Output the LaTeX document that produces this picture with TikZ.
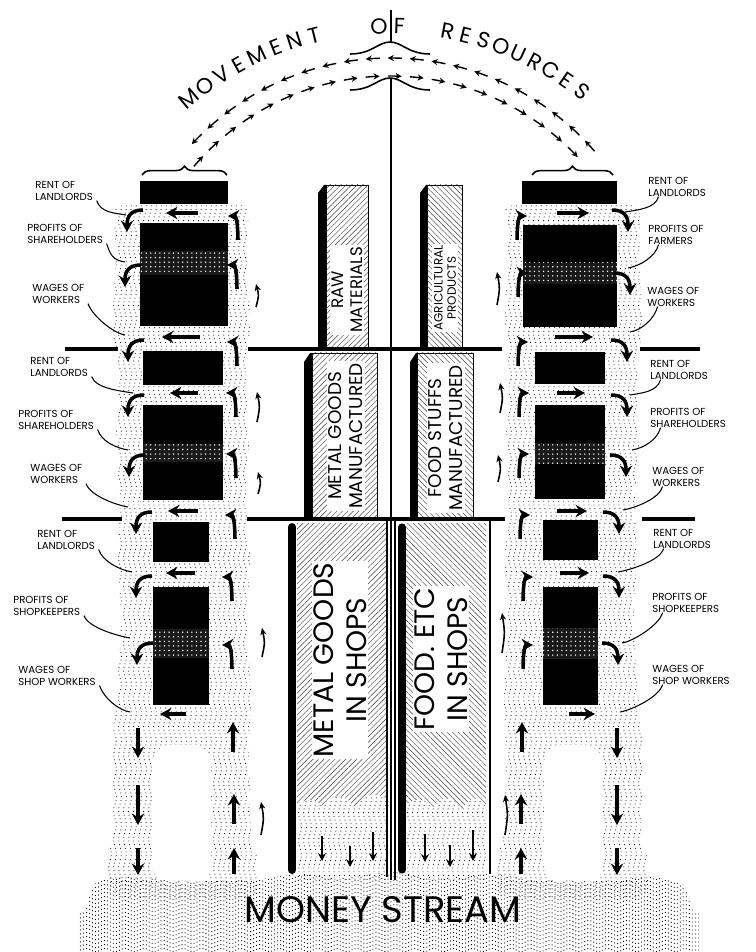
\documentclass[tikz,border=0pt]{standalone}
\usepackage{fontspec}
\setmainfont{Poppins}
\usepackage{tikz}
\usetikzlibrary{positioning}
\usetikzlibrary{calc}
\usetikzlibrary{arrows.meta}
\usetikzlibrary{decorations.pathmorphing}
\usetikzlibrary{decorations.pathreplacing}
\usetikzlibrary{patterns.meta}

\tikzset{
  stip/.style={line width=0.45pt, dash pattern=on 0.45pt off 1.7pt, decorate,
    decoration={snake, amplitude=0.8pt, segment length=16pt}},
  stiph/.style={line width=0.5pt, dash pattern=on 0.5pt off 1.3pt, decorate,
    decoration={snake, amplitude=0.9pt, segment length=11pt}},
  block/.style={fill=black},
  mottle/.style={fill=black!90, postaction={pattern={Dots[distance=2.6pt,radius=0.45pt]}, pattern color=white}},
  hatchR/.style={fill=white, postaction={pattern={Lines[angle=45,distance=2.2pt,line width=0.25pt]}, pattern color=black!75}},
  hatchL/.style={fill=white, postaction={pattern={Lines[angle=-45,distance=2.2pt,line width=0.25pt]}, pattern color=black!75}},
  side/.style={fill=black},
  bar/.style={line width=2.4pt},
  flow/.style={line width=2pt, -{Stealth[length=6.5pt,width=7pt]}},
  lone/.style={line width=0.9pt, -{Stealth[length=4pt,width=3.5pt]}},
  drop/.style={line width=1.2pt, -{Stealth[length=4.5pt,width=4.5pt]}},
  res/.style={line width=0.8pt, -{Stealth[length=3.5pt,width=3.5pt]}},
  lbl/.style={font=\fontsize{5.8}{6.4}\selectfont, align=left, inner sep=0pt, anchor=west},
  leader/.style={line width=0.6pt},
  barlbl/.style={rotate=90, align=center, inner sep=1pt, fill=white},
  ttl/.style={font=\fontsize{12.5}{12.5}\selectfont, inner sep=0pt},
}

% dotted money stream round one column (left one, mirrored for the right)
\newcommand{\columnstream}{%
  \begin{scope}
    \clip plot[smooth cycle, tension=0.55] coordinates {(126,205) (115,218) (116,260) (113,320) (118,380) (116,440) (120,500) (118,560) (121,620) (117,690) (112,760) (114,830) (111,895) (253,895) (251,830) (249,760) (251,690) (247,620) (250,560) (246,500) (249,440) (246,380) (250,320) (247,260) (248,218) (238,205)};
    \foreach \x in {110,115,...,255}
      \draw[stip] (\x,198) -- (\x,900);
  \end{scope}
  \fill[white, rounded corners=10pt] (153,745) rectangle (211,884);
}

% arrows of the stream round one column
\newcommand{\columnflow}[1]{%
  \foreach \ya/\xa/\xb in {213/198/166, 337/200/162, 393/198/170, 511/198/168, 573/195/166, 714/186/160}
    \draw[flow] (\xa,\ya) -- (\xb,\ya);
  \foreach \y/\x in {210/127, #1/125, 340/128, 395/128, 455/129, 512/136, 576/136, 643/137}
    \draw[flow] (\x+16,\y) .. controls (\x+4,\y) and (\x,\y+6) .. (\x,\y+22);
  \foreach \y/\x in {216/238, #1/237, 342/237, 393/236, 454/236, 515/235, 577/232, 645/232}
    \draw[flow] (\x,\y+24) .. controls (\x,\y+8) and (\x-2,\y) .. (\x-10,\y);
  \foreach \ya/\yb/\x in {728/758/138, 785/825/138, 848/875/138}
    \draw[flow] (\x,\ya) -- (\x,\yb);
  \foreach \ya/\yb/\x in {752/722/233, 824/794/234, 874/848/234}
    \draw[flow] (\x,\ya) -- (\x,\yb);
}

\begin{document}
\begin{tikzpicture}[x=0.02cm, y=-0.02cm]
\useasboundingbox (0,0) rectangle (755,952);
\coordinate (tctr) at (390,339);
\coordinate (octr) at (390,329);
\coordinate (ictr) at (390,334);

% streams
\columnstream
\begin{scope}[shift={(755,0)}, xscale=-1]
  \columnstream
\end{scope}

% shop bottoms
\foreach \x in {300,305,...,386}
  \draw[stip] (\x,790) -- (\x,880);
\foreach \x in {409,414,...,488}
  \draw[stip] (\x,790) -- (\x,880);

% money stream
\begin{scope}
  \clip plot[smooth cycle, tension=0.5] coordinates {(86,952) (88,905) (95,884) (120,877) (190,881) (260,879) (300,874) (345,878) (390,872) (440,878) (490,874) (530,879) (600,881) (650,877) (682,884) (690,905) (692,952)};
  \foreach \y in {866,870,...,956}
    \draw[stiph] (80,\y) -- (700,\y);
\end{scope}
\node[font=\fontsize{21}{21}\selectfont, inner sep=1pt] (money) at (383,910) {MONEY STREAM};

% goods in shops
\path[hatchR] (297,523) -- (387,523) -- (387,800) .. controls (375,790) and (362,795) .. (355,808) .. controls (345,792) and (330,795) .. (322,806) .. controls (312,796) and (302,800) .. (297,806) -- cycle;
\path[hatchL] (406,523) -- (486,523) -- (486,805) .. controls (478,795) and (468,797) .. (462,810) .. controls (455,795) and (440,795) .. (433,808) .. controls (425,796) and (412,798) .. (406,806) -- cycle;
\draw[line width=4.5pt, line cap=round] (292,527) -- (292,870);
\draw[line width=4pt, line cap=round] (402,527) -- (402,870);
\draw[line width=0.6pt] (387,521) -- (387,877);
\draw[line width=0.6pt] (490,521) -- (490,874);
\node[barlbl, font=\fontsize{16}{19}\selectfont] (metshop) at (340,660) {METAL GOODS\\IN SHOPS};
\node[barlbl, font=\fontsize{16}{19}\selectfont] (foodshop) at (441,659) {FOOD. ETC\\IN SHOPS};
\foreach \xa/\ya/\yb in {322/836/861, 350/846/867, 373/832/861, 425/834/862, 450/845/867, 473/830/861}
  \draw[drop] (\xa,\ya) -- (\xa,\yb);

% manufactured goods
\fill[side] (304,362) -- (310,353) -- (313,353) -- (313,517) -- (304,517) -- cycle;
\path[hatchR, draw=black, line width=0.5pt] (312,353) rectangle (377,517);
\fill[side] (410,362) -- (416,353) -- (418,353) -- (418,517) -- (410,517) -- cycle;
\path[hatchL, draw=black, line width=0.5pt] (417,353) rectangle (473,517);
\node[barlbl, font=\fontsize{10.5}{12}\selectfont] (metman) at (346,436) {METAL GOODS\\MANUFACTURED};
\node[barlbl, font=\fontsize{10.5}{12}\selectfont] (foodman) at (446,438) {FOOD STUFFS\\MANUFACTURED};

% raw products
\fill[side] (318,193) -- (324,185) -- (327,185) -- (327,347) -- (318,347) -- cycle;
\path[hatchR, draw=black, line width=0.5pt] (326,185) rectangle (368,347);
\fill[side] (420,193) -- (426,185) -- (428,185) -- (428,347) -- (420,347) -- cycle;
\path[hatchL, draw=black, line width=0.5pt] (427,185) rectangle (462,347);
\node[barlbl, font=\fontsize{9.5}{11}\selectfont] (raw) at (347,290) {RAW\\MATERIALS};
\node[barlbl, font=\fontsize{6.8}{7.6}\selectfont] (agri) at (445,288) {AGRICULTURAL\\PRODUCTS};

% floors
\foreach \y/\xa/\xb in {349/65/118, 349/248/502, 349/640/700, 519/62/122, 519/247/505, 519/642/695}
  \draw[bar] (\xa,\y) -- (\xb,\y);

% centre line
\draw[line width=0.7pt] (391,10) -- (391,42);
\draw[line width=0.7pt] (391,78) -- (391,519);
\draw[line width=0.6pt] (391,519) -- (391,880);
\draw[line width=0.6pt] (395,519) -- (395,880);

% incomes, left column
\fill[block] (140,181) rectangle (228,204);
\fill[block] (140,223) rectangle (228,251);
\path[mottle] (140,251) rectangle (228,275);
\fill[block] (140,275) rectangle (228,326);
\fill[block] (143,351) rectangle (223,385);
\fill[block] (143,405) rectangle (223,444);
\path[mottle] (143,444) rectangle (223,462);
\fill[block] (143,462) rectangle (223,500);
\fill[block] (153,522) rectangle (209,562);
\fill[block] (153,587) rectangle (209,629);
\path[mottle] (153,629) rectangle (209,658);
\fill[block] (153,658) rectangle (209,705);

% incomes, right column
\fill[block] (522,181) rectangle (617,204);
\fill[block] (523,225) rectangle (617,263);
\path[mottle] (523,263) rectangle (617,284);
\fill[block] (523,284) rectangle (617,327);
\fill[block] (535,352) rectangle (605,384);
\fill[block] (535,405) rectangle (605,443);
\path[mottle] (535,443) rectangle (605,464);
\fill[block] (535,464) rectangle (605,499);
\fill[block] (543,520) rectangle (598,560);
\fill[block] (543,587) rectangle (598,628);
\path[mottle] (543,628) rectangle (598,659);
\fill[block] (543,659) rectangle (598,705);

% flow arrows
\columnflow{265}
\begin{scope}[shift={(755,0)}, xscale=-1]
  \columnflow{273}
\end{scope}
\foreach \x/\ya/\yb in {256/307/284, 257/422/392, 258/494/472, 262/657/628, 261/835/802,
                        497/305/272, 500/413/383, 498/482/455, 502/653/613, 505/835/795}
  \draw[lone] (\x,\ya) .. controls (\x+3,\ya/2+\yb/2) .. (\x,\yb);

% labels, left
\node[lbl] (lrent1) at (35,191) {RENT OF\\LANDLORDS};
\node[lbl] (lprof1) at (27,234) {PROFITS OF\\SHAREHOLDERS};
\node[lbl] (lwage1) at (32,294) {WAGES OF\\WORKERS};
\node[lbl] (lrent2) at (30,367) {RENT OF\\LANDLORDS};
\node[lbl] (lprof2) at (18,420) {PROFITS OF\\SHAREHOLDERS};
\node[lbl] (lwage2) at (30,474) {WAGES OF\\WORKERS};
\node[lbl] (lrent3) at (37,540) {RENT OF\\LANDLORDS};
\node[lbl] (lprof3) at (13,606) {PROFITS OF\\SHOPKEEPERS};
\node[lbl] (lwage3) at (18,676) {WAGES OF\\SHOP WORKERS};
\foreach \n/\ex/\ey in {lrent1/126/215, lprof1/125/262, lwage1/125/335, lrent2/133/393, lprof2/128/450,
                        lwage2/128/507, lrent3/132/572, lprof3/130/638, lwage3/130/712}{
  \coordinate (\n-end) at (\ex,\ey);
  \draw[leader] ([xshift=2pt]\n.south east) .. controls +(4,12) and +(-12,-2) .. (\n-end);
}

% labels, right
\node[lbl] (rrent1) at (648,187) {RENT OF\\LANDLORDS};
\node[lbl] (rprof1) at (648,235) {PROFITS OF\\FARMERS};
\node[lbl] (rwage1) at (647,297) {WAGES OF\\WORKERS};
\node[lbl] (rrent2) at (650,370) {RENT OF\\LANDLORDS};
\node[lbl] (rprof2) at (650,418) {PROFITS OF\\SHAREHOLDERS};
\node[lbl] (rwage2) at (652,477) {WAGES OF\\WORKERS};
\node[lbl] (rrent3) at (653,539) {RENT OF\\LANDLORDS};
\node[lbl] (rprof3) at (652,603) {PROFITS OF\\SHOPKEEPERS};
\node[lbl] (rwage3) at (652,675) {WAGES OF\\SHOP WORKERS};
\foreach \n/\ex/\ey in {rrent1/625/212, rprof1/628/268, rwage1/630/332, rrent2/630/395, rprof2/632/450,
                        rwage2/623/510, rrent3/618/572, rprof3/622/643, rwage3/620/712}{
  \coordinate (\n-end) at (\ex,\ey);
  \draw[leader] ([xshift=6pt]\n.south west) .. controls +(-3,12) and +(12,-2) .. (\n-end);
}

% movement of resources
\foreach \ch/\a [count=\i] in {M/129.9, O/126.2, V/122.5, E/118.8, M/115.1, E/111.4, N/107.7, T/104,
                               O/92, F/88.3,
                               R/79.4, E/76, S/72.6, O/69.2, U/65.8, R/62.4, C/59, E/55.6, S/52.2}
  \node[ttl, rotate=\a-90] (ttl\i) at ([shift={(-\a:313)}]tctr) {\ch};
\foreach \a in {41,45.65,...,137}
  \draw[res] ([shift={(-\a:271)}]octr) arc[start angle=-\a, delta angle=-3, radius=271];
\foreach \a in {139.5,134.6,...,45}
  \draw[res] ([shift={(-\a:258)}]ictr) arc[start angle=-\a, delta angle=3.1, radius=258];
\draw[line width=0.9pt] (350,54) .. controls (372,54) and (378,42) .. (390,42) .. controls (402,42) and (408,54) .. (430,54);
\draw[line width=0.9pt] (350,90) .. controls (372,90) and (378,78) .. (390,78) .. controls (402,78) and (408,90) .. (430,90);
\draw[line width=0.9pt, decorate, decoration={brace, amplitude=5pt}] (142,175) -- (227,175);
\draw[line width=0.9pt, decorate, decoration={brace, amplitude=5pt}] (532,175) -- (613,175);
\end{tikzpicture}
\end{document}
